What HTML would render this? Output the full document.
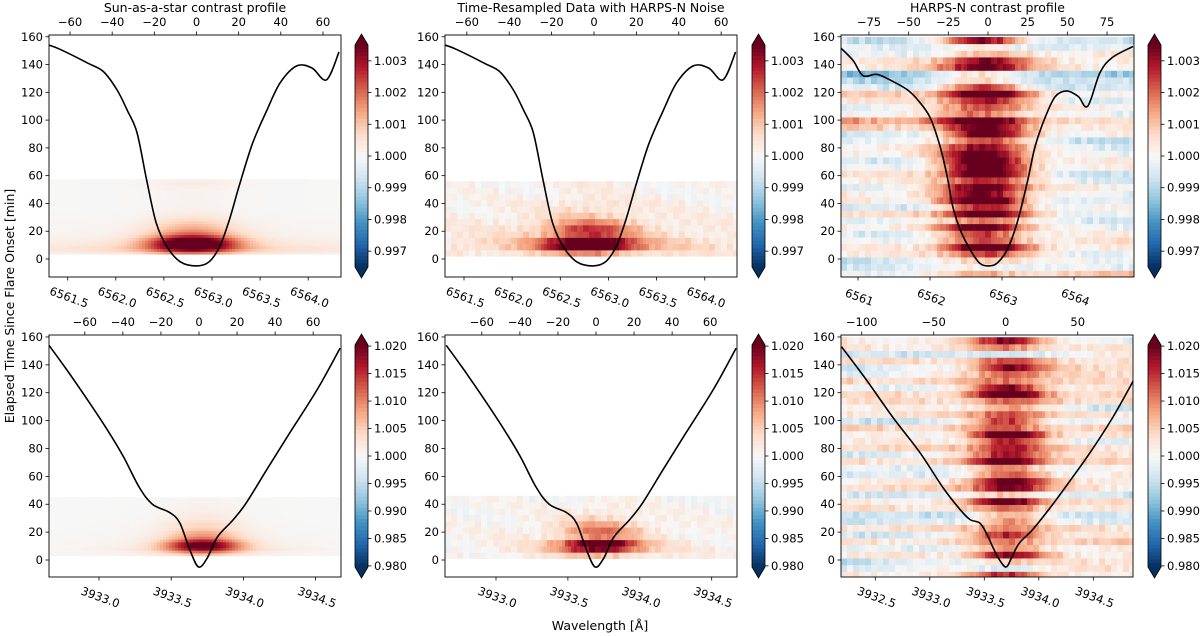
<!DOCTYPE html>
<html><head><meta charset="utf-8"><style>
html,body{margin:0;padding:0;background:#fff;}
svg{display:block;font-family:"DejaVu Sans","Liberation Sans",sans-serif;}
</style></head><body>
<svg id="fig" width="1200" height="636" viewBox="0 0 1200 636" xmlns="http://www.w3.org/2000/svg">
<text x="0" y="0" transform="translate(14,306) rotate(-90)" text-anchor="middle" font-size="12.5" fill="#000">Elapsed Time Since Flare Onset  [min]</text>
<text x="600" y="630" text-anchor="middle" font-size="12.5" fill="#000">Wavelength [Å]</text>
</svg>
<script>
// ---------- line profiles ----------
const haProfileWl = [6561.306,6561.42,6561.71,6561.87,6562.01,6562.12,6562.22,6562.32,6562.42,6562.53,6562.67,6562.84,6562.97,6563.08,6563.18,6563.28,6563.42,6563.57,6563.71,6563.88,6564.04,6564.19,6564.32];
const haProfileT  = [154,151,141,135,122,107,91,57,26,9,-2,-5,-2,9,28,52,83,107,127,139,137.5,129,149];
const haHarpsWl = [6560.76,6560.93,6561.07,6561.26,6561.44,6561.68,6561.83,6562.00,6562.14,6562.24,6562.32,6562.42,6562.56,6562.69,6562.81,6562.93,6563.07,6563.21,6563.35,6563.46,6563.60,6563.74,6563.90,6564.06,6564.19,6564.36,6564.53,6564.82];
const haHarpsT  = [152,143,132,133,129,122,114.5,102,81,59,37,21,6.5,-3,-5,-3,6.5,26,55,81,102,117,121,117,110,134,145,153];
const caProfileWl = [3932.654,3932.78,3932.92,3933.06,3933.17,3933.28,3933.37,3933.49,3933.56,3933.63,3933.69,3933.75,3933.82,3933.93,3934.02,3934.16,3934.32,3934.51,3934.67];
const caProfileT  = [154,136,115,93,74,52,40,34,26.5,7,-5,1.5,16.5,29,41,64.5,91,122,152];
const caHarpsWl = [3932.19,3932.42,3932.66,3932.91,3933.12,3933.28,3933.37,3933.46,3933.52,3933.58,3933.64,3933.70,3933.75,3933.82,3933.94,3934.09,3934.27,3934.47,3934.68,3934.87];
const caHarpsT  = [153,129,102.5,77,52,36,29,26.5,19,9,0,-5,1.5,12,21.5,36,55,77,102.5,129];

// ---------- heatmap rows (contrast-1 in units of 1e-3) ----------
const simHaRowT    = [4.5,6.5,8.5,10.5,12.5,14.5,16.5,18.5,20.5,22.5,24.5,26.5,28.5,30.5,32.5,34.5,36.5,38.5,40.5,42.5,44.5,46.5,48.5,50.5,52.5,54.5,56.5];
const simHaRowCore = [1.5,2.6,3.6,4.2,4.2,3.6,2.6,1.9,1.5,1.2,1.0,0.8,0.6,0.4,0.3,0.2,0.15,0.12,0.1,0.1,0.1,0.1,0.1,0.15,0.2,0.3,0.2];
const simHaRowWing = [0.45,0.75,0.8,0.6,0.45,0.35,0.25,0.2,0.15,0.12,0.1,0.08,0.06,0.05,0.04,0.03,0.02,0.02,0.02,0.02,0.02,0.02,0.02,0.02,0.02,0.02,0.02];

const resHaRowT    = [4.25,8.75,13.25,17.75,22.25,26.75,31.25,35.75,40.25,44.75,49.25,53.75];
const resHaRowCore = [1.0,3.8,3.6,2.0,2.0,1.2,0.6,0.4,0.3,0.2,0.1,0.1];
const resHaRowWing = [0.6,1.0,0.9,0.6,0.5,0.4,0.3,0.2,0.2,0.1,0.1,0.1];

const obsHaRowT    = [-10.6,-5.8,-1,3.8,8.6,13.4,18.2,23,27.8,32.6,37.4,42.2,47,51.8,56.6,61.4,66.2,71,75.8,80.6,85.4,90.2,95,99.8,104.6,109.4,114.2,119,123.8,128.6,133.4,138.2,143,147.8,152.6,157.4];
const obsHaRowCore = [0.8,0.5,1.5,2.5,4,2,2.5,4,2.5,4,3,4.5,3.5,4,3,4.5,4,4.5,4,3.5,3,4,3,3.5,2,2.5,3,4,3,1.5,2,3.5,3,1,0.5,4];
const obsHaRowBgL  = [-0.3,-0.5,-0.8,0.3,0.2,-0.2,-0.5,0.3,-0.3,0.5,-0.8,0.3,0.3,-0.3,0.3,0.5,-0.3,-0.6,0.3,0.3,-0.3,-0.8,0.8,1.5,0.2,-0.3,0.5,0.8,-0.5,-1,-1.5,0.3,0.3,-0.5,-0.3,-0.8];
const obsHaRowBgR  = [1.0,-0.3,0,-0.3,0.3,0.5,0.2,-0.3,-0.5,-0.2,0.2,-0.6,-0.3,0.3,-0.5,-0.8,0.2,0.3,-0.3,-0.5,-0.8,0.3,0.2,0.3,-0.3,0.3,-0.5,0,-0.8,-0.8,-1.2,0.3,0.3,0.5,-0.5,-0.8];

const simCaRowT    = [4,6,8,10,12,14,16,18,20,22,24,26,28,30,32,34,36,38,40,42,44];
const simCaRowCore = [5,10,16,20,20,15,10,8,7,5,4,4,3,2,2,1.5,1,1,0.8,0.5,0.5];
const simCaRowWing = [1,2,3,2,1.5,1.2,1,0.8,0.6,0.5,0.4,0.3,0.2,0.2,0.1,0.1,0.1,0.1,0.1,0.1,0.1];

const resCaRowT    = [3.3,7.8,12.3,16.8,21.3,25.8,30.3,34.8,39.3,43.8];
const resCaRowCore = [4,16,22,8,9,6,3,2,1,0.5];
const resCaRowWing = [2,4,3,2,2,1.5,1,0.5,0.3,0];

const obsCaRowT    = obsHaRowT;
const obsCaRowCore = [15,-3,5,16,8,6,17,8,12,10,8,20,10,18,20,12,10,20,18,14,16,22,8,18,12,10,8,20,18,8,12,18,10,-4,8,20];
const obsCaRowBgL  = [2,-2,-5,2,-3,2,-4,3,-4,-5,3,1,-3,4,1,-4,-2,3,-3,4,2,0,4,-4,3,2,3,3,-2,4,-2,-4,3,-5,2,2];
const obsCaRowBgR  = [0,3,4,2,2,5,2,3,-2,-3,2,3,-4,2,3,2,0,4,3,3,-2,3,4,-2,2,-4,4,4,2,3,4,5,3,2,2,-2];

const noiseTexture = [0.3,-0.5,0.8,-0.2,0.1,-0.9,0.6,0.2,-0.4,0.7,-0.7,0.0,0.5,-0.3,0.9,-0.6,0.2,-0.1,0.4,-0.8,0.6,-0.2,0.3];

const haVelTicks = [-60,-40,-20,0,20,40,60];
const haWlTicks = [6561.5,6562.0,6562.5,6563.0,6563.5,6564.0];
const haObsVelTicks = [-75,-50,-25,0,25,50,75];
const haObsWlTicks = [6561,6562,6563,6564];
const caVelTicks = [-60,-40,-20,0,20,40,60];
const caWlTicks = [3933.0,3933.5,3934.0,3934.5];
const caObsVelTicks = [-100,-50,0,50];
const caObsWlTicks = [3932.5,3933.0,3933.5,3934.0,3934.5];
const timeTicks = [0,20,40,60,80,100,120,140,160];
const cbTicksTop = [3,2,1,0,-1,-2,-3];
const cbLabelsTop = ["1.003","1.002","1.001","1.000","0.999","0.998","0.997"];
const cbTicksBot = [20,15,10,5,0,-5,-10,-15,-20];
const cbLabelsBot = ["1.020","1.015","1.010","1.005","1.000","0.995","0.990","0.985","0.980"];

// ---------- helpers ----------
const NS = "http://www.w3.org/2000/svg";
const svg = document.getElementById('fig');
function mk(tag, attrs, parent){const e=document.createElementNS(NS,tag);for(const k in attrs)e.setAttribute(k,attrs[k]);(parent||svg).appendChild(e);return e;}
const stops=[[0,[5,48,97]],[0.1,[33,102,172]],[0.2,[67,147,195]],[0.3,[146,197,222]],[0.4,[209,229,240]],[0.5,[247,247,247]],[0.6,[253,219,199]],[0.7,[244,165,130]],[0.8,[214,96,77]],[0.9,[178,24,43]],[1,[103,0,31]]];
function cmap(t){t=Math.max(0,Math.min(1,t));for(let i=1;i<stops.length;i++){if(t<=stops[i][0]){const a=stops[i-1],b=stops[i];const f=(t-a[0])/(b[0]-a[0]);const c=a[1].map((v,j)=>Math.round(v+(b[1][j]-v)*f));return `rgb(${c[0]},${c[1]},${c[2]})`;}}return 'rgb(103,0,31)';}
function smoothPath(P){let d=`M${P[0][0].toFixed(1)},${P[0][1].toFixed(1)}`;
  for(let i=0;i<P.length-1;i++){const p0=P[Math.max(0,i-1)],p1=P[i],p2=P[i+1],p3=P[Math.min(P.length-1,i+2)];
    const c1=[p1[0]+(p2[0]-p0[0])/6,p1[1]+(p2[1]-p0[1])/6],c2=[p2[0]-(p3[0]-p1[0])/6,p2[1]-(p3[1]-p1[1])/6];
    d+=` C${c1[0].toFixed(1)},${c1[1].toFixed(1)} ${c2[0].toFixed(1)},${c2[1].toFixed(1)} ${p2[0].toFixed(1)},${p2[1].toFixed(1)}`;}
  return d;}

const panels = [
 {id:'ha-sim', title:'Sun-as-a-star contrast profile', box:[49,35,341,277], y0:259, pxMin:1.389, lamRef:6561.5, lamRefX:67.7, pxA:96.2, v0x:196.5, pxV:2.108, vt:haVelTicks, wt:haWlTicks, wdec:1, cbx:355, range:3.5, cbt:cbTicksTop, cbl:cbLabelsTop, cen:6562.8, sc:0.45, sw:1.7,
  rows:simHaRowT, step:2, core:simHaRowCore, wing:simHaRowWing, noise:0, lw:haProfileWl, lt:haProfileT},
 {id:'ha-resampled', title:'Time-Resampled Data with HARPS-N Noise', box:[445,35,737,277], y0:259, pxMin:1.389, lamRef:6561.5, lamRefX:464, pxA:96.3, v0x:594, pxV:2.119, vt:haVelTicks, wt:haWlTicks, wdec:1, cbx:752, range:3.5, cbt:cbTicksTop, cbl:cbLabelsTop, cen:6562.8, sc:0.45, sw:1.7,
  rows:resHaRowT, step:4.5, core:resHaRowCore, wing:resHaRowWing, noise:0.35, lw:haProfileWl, lt:haProfileT},
 {id:'ha-harpsn', title:'HARPS-N contrast profile', box:[841,35,1134,277], y0:259, pxMin:1.389, lamRef:6561, lamRefX:858, pxA:72, v0x:988, pxV:1.587, vt:haObsVelTicks, wt:haObsWlTicks, wdec:0, cbx:1148, range:3.5, cbt:cbTicksTop, cbl:cbLabelsTop, cen:6562.75, sc:0.6, sw:1.6,
  rows:obsHaRowT, step:4.8, core:obsHaRowCore, bgL:obsHaRowBgL, bgR:obsHaRowBgR, noise:0.45, lw:haHarpsWl, lt:haHarpsT},
 {id:'ca-sim', title:'', box:[49,335,341,577], y0:560, pxMin:1.394, lamRef:3933.0, lamRefX:99, pxA:144.4, v0x:199, pxV:1.903, vt:caVelTicks, wt:caWlTicks, wdec:1, cbx:355, range:20.2, cbt:cbTicksBot, cbl:cbLabelsBot, cen:3933.72, sc:0.26, sw:0.7,
  rows:simCaRowT, step:2, core:simCaRowCore, wing:simCaRowWing, noise:0, lw:caProfileWl, lt:caProfileT},
 {id:'ca-resampled', title:'', box:[445,335,737,577], y0:560, pxMin:1.394, lamRef:3933.0, lamRefX:496, pxA:143.8, v0x:596, pxV:1.903, vt:caVelTicks, wt:caWlTicks, wdec:1, cbx:752, range:20.2, cbt:cbTicksBot, cbl:cbLabelsBot, cen:3933.72, sc:0.26, sw:0.7,
  rows:resCaRowT, step:4.5, core:resCaRowCore, wing:resCaRowWing, noise:2.0, lw:caProfileWl, lt:caProfileT},
 {id:'ca-harpsn', title:'', box:[841,335,1133,577], y0:560, pxMin:1.394, lamRef:3932.5, lamRefX:875.3, pxA:109, v0x:1005.7, pxV:1.44, vt:caObsVelTicks, wt:caObsWlTicks, wdec:1, cbx:1148, range:20.2, cbt:cbTicksBot, cbl:cbLabelsBot, cen:3933.72, sc:0.34, sw:1.0,
  rows:obsCaRowT, step:4.8, core:obsCaRowCore, bgL:obsCaRowBgL, bgR:obsCaRowBgR, noise:2.5, lw:caHarpsWl, lt:caHarpsT}
];

panels.forEach(p=>{
  const [bx0,by0,bx1,by1]=p.box;
  const xOf=l=>p.lamRefX+(l-p.lamRef)*p.pxA;
  const lamOf=x=>p.lamRef+(x-p.lamRefX)/p.pxA;
  const yOf=t=>p.y0-t*p.pxMin;
  const g=mk('g',{});
  
  
  const clipId='clip-'+p.id;
  const cp=mk('clipPath',{id:clipId},g);
  mk('rect',{x:bx0,y:by0,width:bx1-bx0,height:by1-by0},cp);
  const hm=mk('g',{'clip-path':`url(#${clipId})`},g);
  
  
  const colW=3;
  p.rows.forEach((t,ri)=>{
    const yT=yOf(t+p.step/2), yB=yOf(t-p.step/2);
    let ci=0;
    for(let x=bx0;x<bx1;x+=colW,ci++){
      const lam=lamOf(x+colW/2);
      const frac=(x-bx0)/(bx1-bx0);
      let v=0;
      if(p.bgL){v+=p.bgL[ri]+(p.bgR[ri]-p.bgL[ri])*frac;}
      const d=(lam-p.cen);
      v+=p.core[ri]*Math.exp(-(d/p.sc)*(d/p.sc));
      if(p.wing) v+=p.wing[ri]*Math.exp(-(d/p.sw)*(d/p.sw));
      if(p.noise){v+=p.noise*noiseTexture[(Math.floor(ci/2)*7+ri*5)%noiseTexture.length];}
      mk('rect',{x:x,y:yT.toFixed(2),width:colW+0.4,height:(yB-yT+0.4).toFixed(2),fill:cmap(0.5+v/(2*p.range))},hm);
    }
  });
  // profile line
  const P=p.lw.map((l,i)=>[xOf(l),yOf(p.lt[i])]);
  const line=mk('path',{d:smoothPath(P),fill:'none',stroke:'#000','stroke-width':1.6,'stroke-linejoin':'round','clip-path':`url(#${clipId})`},g);
  
  
  // frame
  mk('rect',{x:bx0,y:by0,width:bx1-bx0,height:by1-by0,fill:'none',stroke:'#000','stroke-width':0.9},g);
  // y ticks
  timeTicks.forEach(t=>{const y=yOf(t);mk('line',{x1:bx0,x2:bx0-3.5,y1:y,y2:y,stroke:'#000','stroke-width':0.8},g);
    const tx=mk('text',{x:bx0-6,y:y+4,'text-anchor':'end','font-size':11.5},g);tx.textContent=t;
    
    });
  // top velocity ticks
  p.vt.forEach(v=>{const x=p.v0x+v*p.pxV;mk('line',{x1:x,x2:x,y1:by0,y2:by0-3.5,stroke:'#000','stroke-width':0.8},g);
    const tx=mk('text',{x:x,y:by0-9,'text-anchor':'middle','font-size':11.5},g);tx.textContent=(v<0?'\u2212'+(-v):v);
    
    });
  // bottom wavelength ticks
  p.wt.forEach(l=>{const x=xOf(l);mk('line',{x1:x,x2:x,y1:by1,y2:by1+3.5,stroke:'#000','stroke-width':0.8},g);
    const tx=mk('text',{x:0,y:0,'text-anchor':'middle','font-size':11.5,transform:`translate(${x},${by1+24}) rotate(20)`},g);tx.textContent=l.toFixed(p.wdec);
    
    });
  if(p.title){const tt=mk('text',{x:(bx0+bx1)/2,y:12,'text-anchor':'middle','font-size':12.5},g);tt.textContent=p.title;
    
    }
  // colorbar
  const cb=mk('g',{},g);
  
  
  const cx0=p.cbx,cw=13,cTop=by0+10,cBot=by1-10;
  const n=60;
  for(let i=0;i<n;i++){const y=cTop+(cBot-cTop)*i/n;mk('rect',{x:cx0,y:y.toFixed(2),width:cw,height:((cBot-cTop)/n+0.5).toFixed(2),fill:cmap(1-(i+0.5)/n)},cb);}
  mk('polygon',{points:`${cx0},${cTop} ${cx0+cw/2},${by0-1} ${cx0+cw},${cTop}`,fill:cmap(1)},cb);
  mk('polygon',{points:`${cx0},${cBot} ${cx0+cw/2},${by1+1} ${cx0+cw},${cBot}`,fill:cmap(0)},cb);
  mk('polygon',{points:`${cx0},${cTop} ${cx0+cw/2},${by0-1} ${cx0+cw},${cTop} ${cx0+cw},${cBot} ${cx0+cw/2},${by1+1} ${cx0},${cBot}`,fill:'none',stroke:'#000','stroke-width':0.8},cb);
  p.cbt.forEach((v,i)=>{const y=cTop+(p.range-v)/(2*p.range)*(cBot-cTop);
    mk('line',{x1:cx0+cw,x2:cx0+cw+3.5,y1:y,y2:y,stroke:'#000','stroke-width':0.8},cb);
    const tx=mk('text',{x:cx0+cw+6,y:y+4,'font-size':11.5},cb);tx.textContent=p.cbl[i];
    
    });
});
</script>
</body></html>
